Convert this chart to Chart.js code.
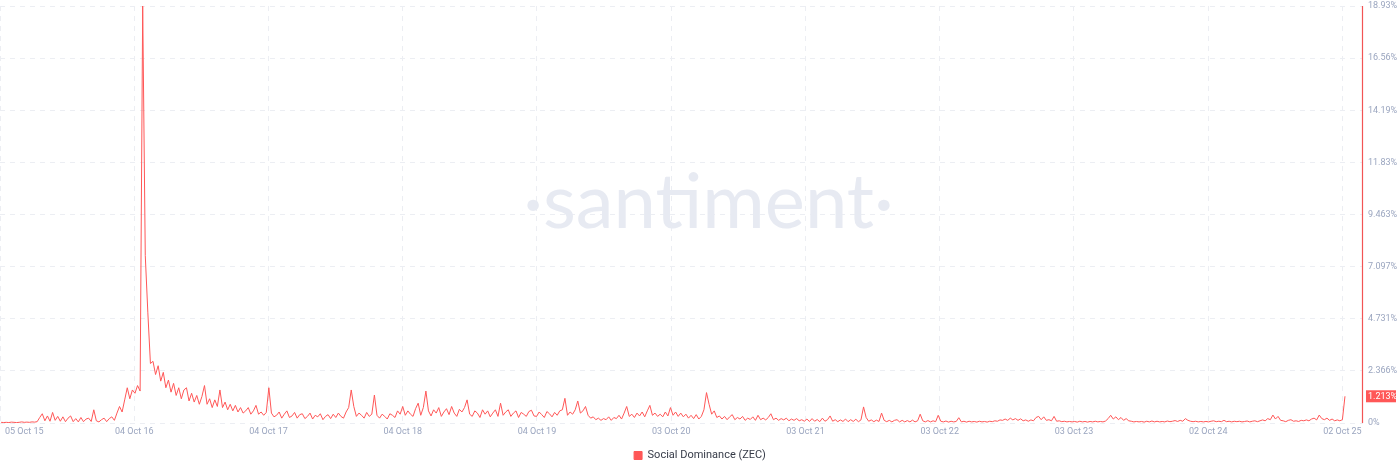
<!DOCTYPE html>
<html>
<head>
<meta charset="utf-8">
<script src="https://cdn.jsdelivr.net/npm/chart.js@4.4.1/dist/chart.umd.min.js"></script>
<style>
  html, body { margin: 0; padding: 0; background: #fff; }
  #wrap { width: 1400px; height: 473px; }
</style>
</head>
<body>
<div id="wrap"><canvas id="chart"></canvas></div>
<script>
// weekly points, first one a few days after 05 Oct 2015
const stepDays = 7;
const startOffsetDays = 3;
const xTickLabels = ["05 Oct 15", "04 Oct 16", "04 Oct 17", "04 Oct 18", "04 Oct 19", "03 Oct 20",
  "03 Oct 21", "03 Oct 22", "03 Oct 23", "02 Oct 24", "02 Oct 25"];
const yTickLabels = ["0%", "2.366%", "4.731%", "7.097%", "9.463%", "11.83%", "14.19%", "16.56%", "18.93%"];
const yMax = 18.93;
const seriesName = "Social Dominance (ZEC)";

const dom2015 = [
  0.03, 0.02, 0.03, 0.02, 0.04, 0.03, 0.02, 0.03, 0.05, 0.03, 0.04, 0.03, 0.05,
  0.04, 0.06, 0.25, 0.42, 0.10, 0.32, 0.08, 0.48, 0.12, 0.30, 0.08, 0.28, 0.06,
  0.22, 0.32, 0.06, 0.20, 0.05, 0.25, 0.06, 0.18, 0.22, 0.07, 0.60, 0.10, 0.05,
  0.15, 0.22, 0.06, 0.20, 0.28, 0.12, 0.45, 0.75, 0.50, 1.05, 1.60, 1.10, 1.50
];
const dom2016 = [
  1.35, 1.70, 1.45, 18.93, 7.60, 5.00, 2.70, 2.80, 2.20, 2.60, 1.90, 2.30, 1.60,
  1.95, 1.40, 1.80, 1.25, 1.60, 1.10, 1.50, 1.60, 1.00, 1.35, 0.95, 1.25, 0.85,
  1.20, 1.70, 0.85, 1.10, 0.70, 1.05, 0.75, 1.50, 0.70, 0.95, 0.60, 0.85, 0.55,
  0.80, 0.50, 0.70, 0.45, 0.55, 0.70, 0.40, 0.55, 0.80, 0.40, 0.50, 0.35, 0.48
];
const dom2017 = [
  1.60, 0.45, 0.28, 0.35, 0.50, 0.22, 0.40, 0.55, 0.25, 0.32, 0.48, 0.22, 0.38,
  0.42, 0.20, 0.30, 0.45, 0.18, 0.35, 0.28, 0.42, 0.15, 0.30, 0.38, 0.20, 0.40,
  0.25, 0.45, 0.30, 0.22, 0.50, 0.70, 1.50, 0.75, 0.30, 0.45, 0.35, 0.22, 0.48,
  0.30, 0.40, 1.27, 0.35, 0.22, 0.40, 0.30, 0.18, 0.42, 0.35, 0.25, 0.55, 0.40
];
const dom2018 = [
  0.75, 0.35, 0.55, 0.40, 0.30, 0.65, 0.90, 0.35, 0.70, 1.45, 0.55, 0.32, 0.60,
  0.45, 0.70, 0.30, 0.50, 0.65, 0.38, 0.75, 0.45, 0.30, 0.62, 0.50, 0.70, 1.05,
  0.40, 0.30, 0.55, 0.45, 0.25, 0.60, 0.40, 0.55, 0.28, 0.45, 0.60, 0.30, 0.90,
  0.35, 0.50, 0.60, 0.30, 0.45, 0.55, 0.25, 0.48, 0.40, 0.30, 0.52, 0.58, 0.32
];
const dom2019 = [
  0.30, 0.50, 0.38, 0.25, 0.52, 0.42, 0.28, 0.48, 0.35, 0.55, 0.60, 1.12, 0.35,
  0.50, 0.40, 0.60, 1.00, 0.45, 0.55, 0.75, 0.35, 0.22, 0.28, 0.15, 0.22, 0.12,
  0.20, 0.15, 0.28, 0.12, 0.25, 0.20, 0.35, 0.18, 0.45, 0.75, 0.30, 0.40, 0.25,
  0.45, 0.32, 0.50, 0.28, 0.55, 0.80, 0.35, 0.45, 0.30, 0.40, 0.28, 0.50, 0.32
];
const dom2020 = [
  0.70, 0.35, 0.50, 0.30, 0.45, 0.28, 0.40, 0.22, 0.35, 0.20, 0.38, 0.18, 0.30,
  0.60, 1.38, 0.85, 0.40, 0.55, 0.25, 0.32, 0.18, 0.30, 0.15, 0.28, 0.38, 0.15,
  0.25, 0.18, 0.30, 0.12, 0.22, 0.16, 0.28, 0.12, 0.35, 0.15, 0.22, 0.14, 0.25,
  0.42, 0.15, 0.22, 0.12, 0.20, 0.14, 0.22, 0.10, 0.18, 0.12, 0.20, 0.10, 0.15
];
const dom2021 = [
  0.08, 0.18, 0.07, 0.20, 0.08, 0.16, 0.06, 0.22, 0.08, 0.15, 0.32, 0.08, 0.15,
  0.06, 0.14, 0.07, 0.18, 0.06, 0.15, 0.07, 0.17, 0.06, 0.14, 0.73, 0.25, 0.08,
  0.14, 0.06, 0.13, 0.07, 0.45, 0.12, 0.06, 0.12, 0.05, 0.12, 0.15, 0.05, 0.12,
  0.05, 0.11, 0.05, 0.13, 0.05, 0.10, 0.40, 0.10, 0.05, 0.11, 0.05, 0.10, 0.06
];
const dom2022 = [
  0.35, 0.08, 0.05, 0.09, 0.04, 0.08, 0.05, 0.07, 0.24, 0.05, 0.08, 0.04, 0.08,
  0.05, 0.07, 0.04, 0.08, 0.05, 0.07, 0.04, 0.08, 0.06, 0.10, 0.08, 0.14, 0.12,
  0.18, 0.12, 0.22, 0.14, 0.20, 0.12, 0.19, 0.10, 0.14, 0.08, 0.14, 0.10, 0.25,
  0.30, 0.15, 0.28, 0.12, 0.15, 0.10, 0.30, 0.08, 0.10, 0.06, 0.08, 0.05, 0.07
];
const dom2023 = [
  0.05, 0.07, 0.04, 0.08, 0.05, 0.07, 0.04, 0.07, 0.05, 0.08, 0.05, 0.07, 0.05,
  0.09, 0.20, 0.35, 0.18, 0.28, 0.15, 0.25, 0.12, 0.20, 0.10, 0.08, 0.05, 0.07,
  0.05, 0.07, 0.04, 0.08, 0.05, 0.09, 0.05, 0.08, 0.05, 0.07, 0.05, 0.09, 0.06,
  0.08, 0.11, 0.07, 0.12, 0.08, 0.20, 0.12, 0.08, 0.06, 0.08, 0.05, 0.07, 0.05
];
const dom2024 = [
  0.07, 0.05, 0.08, 0.10, 0.06, 0.08, 0.06, 0.12, 0.06, 0.08, 0.05, 0.08, 0.06,
  0.08, 0.05, 0.07, 0.09, 0.05, 0.08, 0.10, 0.06, 0.10, 0.14, 0.10, 0.20, 0.15,
  0.36, 0.18, 0.30, 0.12, 0.10, 0.06, 0.12, 0.15, 0.08, 0.10, 0.07, 0.12, 0.10,
  0.14, 0.10, 0.18, 0.22, 0.14, 0.36, 0.20, 0.15, 0.22, 0.12, 0.18, 0.10, 0.14
];
const dom2025 = [0.10, 0.15, 1.213];

const values = [].concat(dom2015, dom2016, dom2017, dom2018, dom2019, dom2020,
  dom2021, dom2022, dom2023, dom2024, dom2025);
const lastValue = values[values.length - 1];

const red = "#ff5757";
const tickColor = "#9aa5bf";
const gridColor = "#eceef3";
const font = "Roboto, 'Noto Sans', sans-serif";

const watermark = {
  id: "watermark",
  beforeDatasetsDraw(chart) {
    const { ctx, chartArea } = chart;
    ctx.save();
    ctx.font = "400 76px Lato, 'Open Sans', sans-serif";
    ctx.fillStyle = "#e7eaf2";
    ctx.textAlign = "center";
    ctx.textBaseline = "middle";
    ctx.fillText("\u00b7santiment\u00b7", (chartArea.left + chartArea.right) / 2 + 27, 203);
    ctx.restore();
  }
};

const extras = {
  id: "extras",
  afterDraw(chart) {
    const { ctx, chartArea } = chart;
    const xs = chart.scales.x;
    const ys = chart.scales.y;
    ctx.save();
    // red axis line on the right
    const ax = Math.round(ys.left) - 0.5;
    ctx.strokeStyle = "#f25454";
    ctx.lineWidth = 1.2;
    ctx.beginPath();
    ctx.moveTo(ax, chartArea.top);
    ctx.lineTo(ax, chartArea.bottom);
    ctx.stroke();
    // x tick labels, first one kept inside the canvas
    ctx.font = "9px " + font;
    ctx.fillStyle = tickColor;
    ctx.textBaseline = "middle";
    ctx.textAlign = "left";
    xTickLabels.forEach((t, k) => {
      const px = xs.getPixelForValue(k * 365);
      const w = ctx.measureText(t).width;
      const left = Math.max(px - w / 2, 5);
      ctx.fillText(t, left, chartArea.bottom + 9);
    });
    // last value badge
    const y = ys.getPixelForValue(lastValue);
    ctx.fillStyle = red;
    ctx.fillRect(ys.left + 3, y - 6, 30, 12);
    ctx.fillStyle = "#fff";
    ctx.fillText(lastValue.toFixed(3) + "%", ys.left + 5, y + 0.5);
    ctx.restore();
  }
};

new Chart(document.getElementById("chart"), {
  type: "line",
  data: {
    datasets: [{
      label: seriesName,
      data: values.map((v, i) => ({ x: startOffsetDays + i * stepDays, y: v })),
      borderColor: red,
      backgroundColor: red,
      borderWidth: 1,
      pointRadius: 0,
      tension: 0
    }]
  },
  options: {
    responsive: true,
    maintainAspectRatio: false,
    animation: false,
    layout: { padding: { top: 6, left: 0, right: 0, bottom: 2 } },
    plugins: {
      legend: {
        position: "bottom",
        labels: {
          boxWidth: 8,
          boxHeight: 8,
          padding: 12,
          color: "#363b48",
          font: { family: font, size: 11 }
        }
      },
      tooltip: { enabled: false }
    },
    scales: {
      x: {
        type: "linear",
        min: 0,
        max: 3706,
        afterBuildTicks: s => { s.ticks = xTickLabels.map((_, k) => ({ value: k * 365 })); },
        afterFit: s => { s.height = 15; s.paddingLeft = 0; s.paddingRight = 0; },
        ticks: { display: false },
        grid: { color: gridColor, drawTicks: false },
        border: { display: false, dash: [5, 5] }
      },
      y: {
        position: "right",
        min: 0,
        max: yMax,
        afterBuildTicks: s => { s.ticks = yTickLabels.map((_, k) => ({ value: k * yMax / 8 })); },
        afterFit: s => { s.width = 37; s.paddingTop = 0; s.paddingBottom = 0; },
        ticks: {
          padding: 5,
          color: tickColor,
          font: { family: font, size: 9 },
          callback: (v, i) => yTickLabels[i]
        },
        grid: { color: gridColor, drawTicks: false },
        border: { display: false, dash: [5, 5] }
      }
    }
  },
  plugins: [watermark, extras]
});
</script>
</body>
</html>
